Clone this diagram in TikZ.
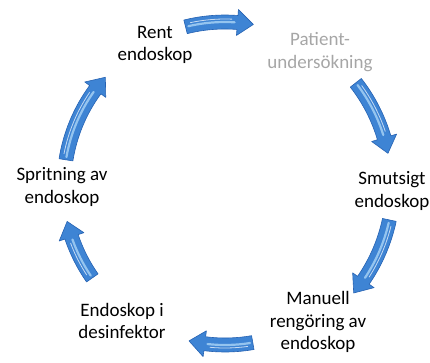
\documentclass[tikz,border=0pt]{standalone}
\usepackage{fontspec}
\setmainfont{Carlito}
\usetikzlibrary{calc}

\definecolor{arrowblue}{RGB}{62,132,212}
\definecolor{arrowdark}{RGB}{38,98,178}
\definecolor{arrowlight}{RGB}{170,212,246}
\definecolor{labelgray}{RGB}{166,166,166}

% Curved block arrow around the cycle centre, running clockwise
% from angle #1 to angle #2 on radius #3 (pt).
\newcommand\cyclearrow[3]{%
  \pgfmathsetmacro\headang{#2+16/#3*57.2958}%
  \pgfmathsetmacro\rout{#3+7}%
  \pgfmathsetmacro\rin{#3-7}%
  \pgfmathsetmacro\hout{#3+13}%
  \pgfmathsetmacro\hin{#3-13}%
  \begin{scope}[shift={(C)}]
    \fill[arrowblue, draw=arrowdark, line width=0.6pt, line join=round]
      (#1:\rout pt) arc[start angle=#1, end angle=\headang, radius=\rout pt]
      -- (\headang:\hout pt) -- (#2:#3pt) -- (\headang:\hin pt)
      -- (\headang:\rin pt) arc[start angle=\headang, end angle=#1, radius=\rin pt]
      -- cycle;
    \draw[arrowlight, line width=2.2pt, line cap=round, opacity=0.8]
      (#1-1:#3pt) arc[start angle=#1-1, end angle=\headang+1, radius=#3pt];
    \draw[white, line width=0.8pt, line cap=round, opacity=0.7]
      (#1-2:#3pt+3pt) arc[start angle=#1-2, end angle=\headang+2, radius=#3pt+3pt];
  \end{scope}}

\tikzset{
  steptext/.style={align=center, font=\fontsize{19}{22.5}\selectfont, inner sep=0pt},
}

\begin{document}
\begin{tikzpicture}[x=1pt, y=1pt]
  \useasboundingbox (0,0) rectangle (430,-363);
  \coordinate (C) at (225,-185);

  % cycle steps
  \node[steptext] (rent)      at (155,-45)  {Rent\\endoskop};
  \node[steptext, text=labelgray] (patient) at (320,-52) {Patient-\\undersökning};
  \node[steptext] (smutsigt)  at (392,-191) {Smutsigt\\endoskop};
  \node[steptext] (manuell)   at (318,-322) {Manuell\\rengöring av\\endoskop};
  \node[steptext] (desinf)    at (122,-321) {Endoskop i\\desinfektor};
  \node[steptext] (spritning) at (62,-187)  {Spritning av\\endoskop};

  % arrows between the steps
  \cyclearrow{104}{80}{163}
  \cyclearrow{38}{11}{166}
  \cyclearrow{-12}{-40}{168}
  \cyclearrow{-80}{-103}{160}
  \cyclearrow{-145}{-167}{162}
  \cyclearrow{171}{138}{161}
\end{tikzpicture}
\end{document}
